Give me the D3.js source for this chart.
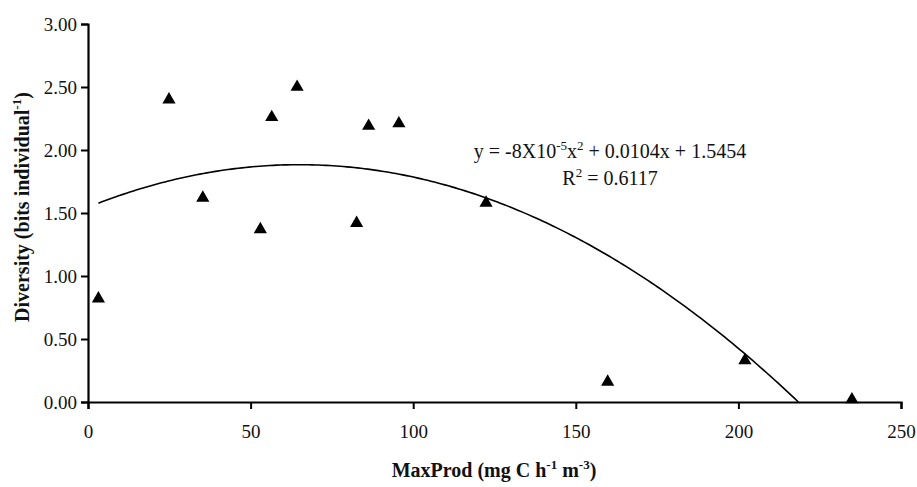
<!DOCTYPE html>
<html>
<head>
<meta charset="utf-8">
<script src="https://cdn.jsdelivr.net/npm/d3@7"></script>
<style>
  html, body { margin: 0; padding: 0; background: #fff; }
  svg { display: block; }
  svg text { font-family: 'Liberation Serif', 'Times New Roman', 'DejaVu Serif', serif !important; }
</style>
</head>
<body>
<svg id="chart" width="917" height="487" font-family="Liberation Serif"></svg>
<script>
// ---- data ----
const maxProd   = [3.2, 24.9, 35.3, 53.0, 56.5, 64.3, 82.6, 86.3, 95.6, 122.4, 159.8, 202.0, 234.9];
const diversity = [0.82, 2.40, 1.62, 1.37, 2.26, 2.50, 1.42, 2.19, 2.21, 1.58, 0.16, 0.33, 0.02];
const xTicks = [0, 50, 100, 150, 200, 250];
const yTicks = [0, 0.5, 1.0, 1.5, 2.0, 2.5, 3.0];
// trendline coefficients: y = a x^2 + b x + c
const fitCoef = [-8e-5, 0.0104, 1.5454];

const FONT = "Liberation Serif";

// ---- layout ----
const svg = d3.select("#chart");
const x = d3.scaleLinear().domain([0, 250]).range([88, 901]);
const y = d3.scaleLinear().domain([0, 3]).range([402, 24]);

// axes
const xAxis = d3.axisBottom(x).tickValues(xTicks).tickSizeInner(7).tickSizeOuter(7).tickPadding(12)
  .tickFormat(d3.format("d"));
const yAxis = d3.axisLeft(y).tickValues(yTicks).tickSizeInner(7).tickSizeOuter(7).tickPadding(4)
  .tickFormat(d3.format(".2f"));

const gx = svg.append("g").attr("transform", `translate(0,${y(0)})`).call(xAxis);
const gy = svg.append("g").attr("transform", `translate(${x(0)},0)`).call(yAxis);
[gx, gy].forEach(g => {
  g.attr("font-family", FONT).attr("font-size", 19);
  g.selectAll(".domain").attr("stroke", "#000").attr("stroke-width", 2.2);
  g.selectAll(".tick line").attr("stroke", "#000").attr("stroke-width", 2);
  g.selectAll(".tick text").attr("fill", "#111");
});
gx.selectAll(".tick text").attr("dy", "0.9em");

// trendline from first data x to root
const [a, b, c] = fitCoef;
const root = (-b - Math.sqrt(b * b - 4 * a * c)) / (2 * a);
const xStart = d3.min(maxProd);
const curvePts = d3.range(0, 201).map(i => {
  const xv = xStart + (root - xStart) * i / 200;
  return [xv, Math.max(0, a * xv * xv + b * xv + c)];
});
svg.append("path")
  .datum(curvePts)
  .attr("fill", "none")
  .attr("stroke", "#000")
  .attr("stroke-width", 1.6)
  .attr("d", d3.line().x(d => x(d[0])).y(d => y(d[1])));

// points
const tri = d3.symbol().type(d3.symbolTriangle).size(75);
svg.append("g").selectAll("path")
  .data(maxProd.map((v, i) => [v, diversity[i]]))
  .join("path")
  .attr("d", tri)
  .attr("fill", "#000")
  .attr("transform", d => `translate(${x(d[0])},${y(d[1])})`);

// equation
const eq = svg.append("text").attr("x", 610).attr("y", 158).attr("text-anchor", "middle")
  .attr("font-size", 20).attr("font-family", FONT).attr("fill", "#111");
eq.append("tspan").text("y = -8X10");
eq.append("tspan").attr("font-size", 13).attr("dy", -8).text("-5");
eq.append("tspan").attr("dy", 8).text("x");
eq.append("tspan").attr("font-size", 13).attr("dy", -8).text("2");
eq.append("tspan").attr("dy", 8).text(" + 0.0104x + 1.5454");

const r2 = svg.append("text").attr("x", 610).attr("y", 185).attr("text-anchor", "middle")
  .attr("font-size", 20).attr("font-family", FONT).attr("fill", "#111");
r2.append("tspan").text("R");
r2.append("tspan").attr("font-size", 13).attr("dy", -8).text("2");
r2.append("tspan").attr("dy", 8).text(" = 0.6117");

// x title
const xt = svg.append("text").attr("x", 494).attr("y", 477).attr("text-anchor", "middle")
  .attr("font-size", 20).attr("font-weight", "bold").attr("font-family", FONT).attr("fill", "#111");
xt.append("tspan").text("MaxProd (mg C h");
xt.append("tspan").attr("font-size", 13).attr("dy", -8).text("-1");
xt.append("tspan").attr("dy", 8).text(" m");
xt.append("tspan").attr("font-size", 13).attr("dy", -8).text("-3");
xt.append("tspan").attr("dy", 8).text(")");

// y title
const yt = svg.append("text").attr("transform", "translate(29,207) rotate(-90)").attr("text-anchor", "middle")
  .attr("font-size", 20).attr("font-weight", "bold").attr("font-family", FONT).attr("fill", "#111");
yt.append("tspan").text("Diversity (bits individual");
yt.append("tspan").attr("font-size", 13).attr("dy", -8).text("-1");
yt.append("tspan").attr("dy", 8).text(")");
</script>
</body>
</html>
